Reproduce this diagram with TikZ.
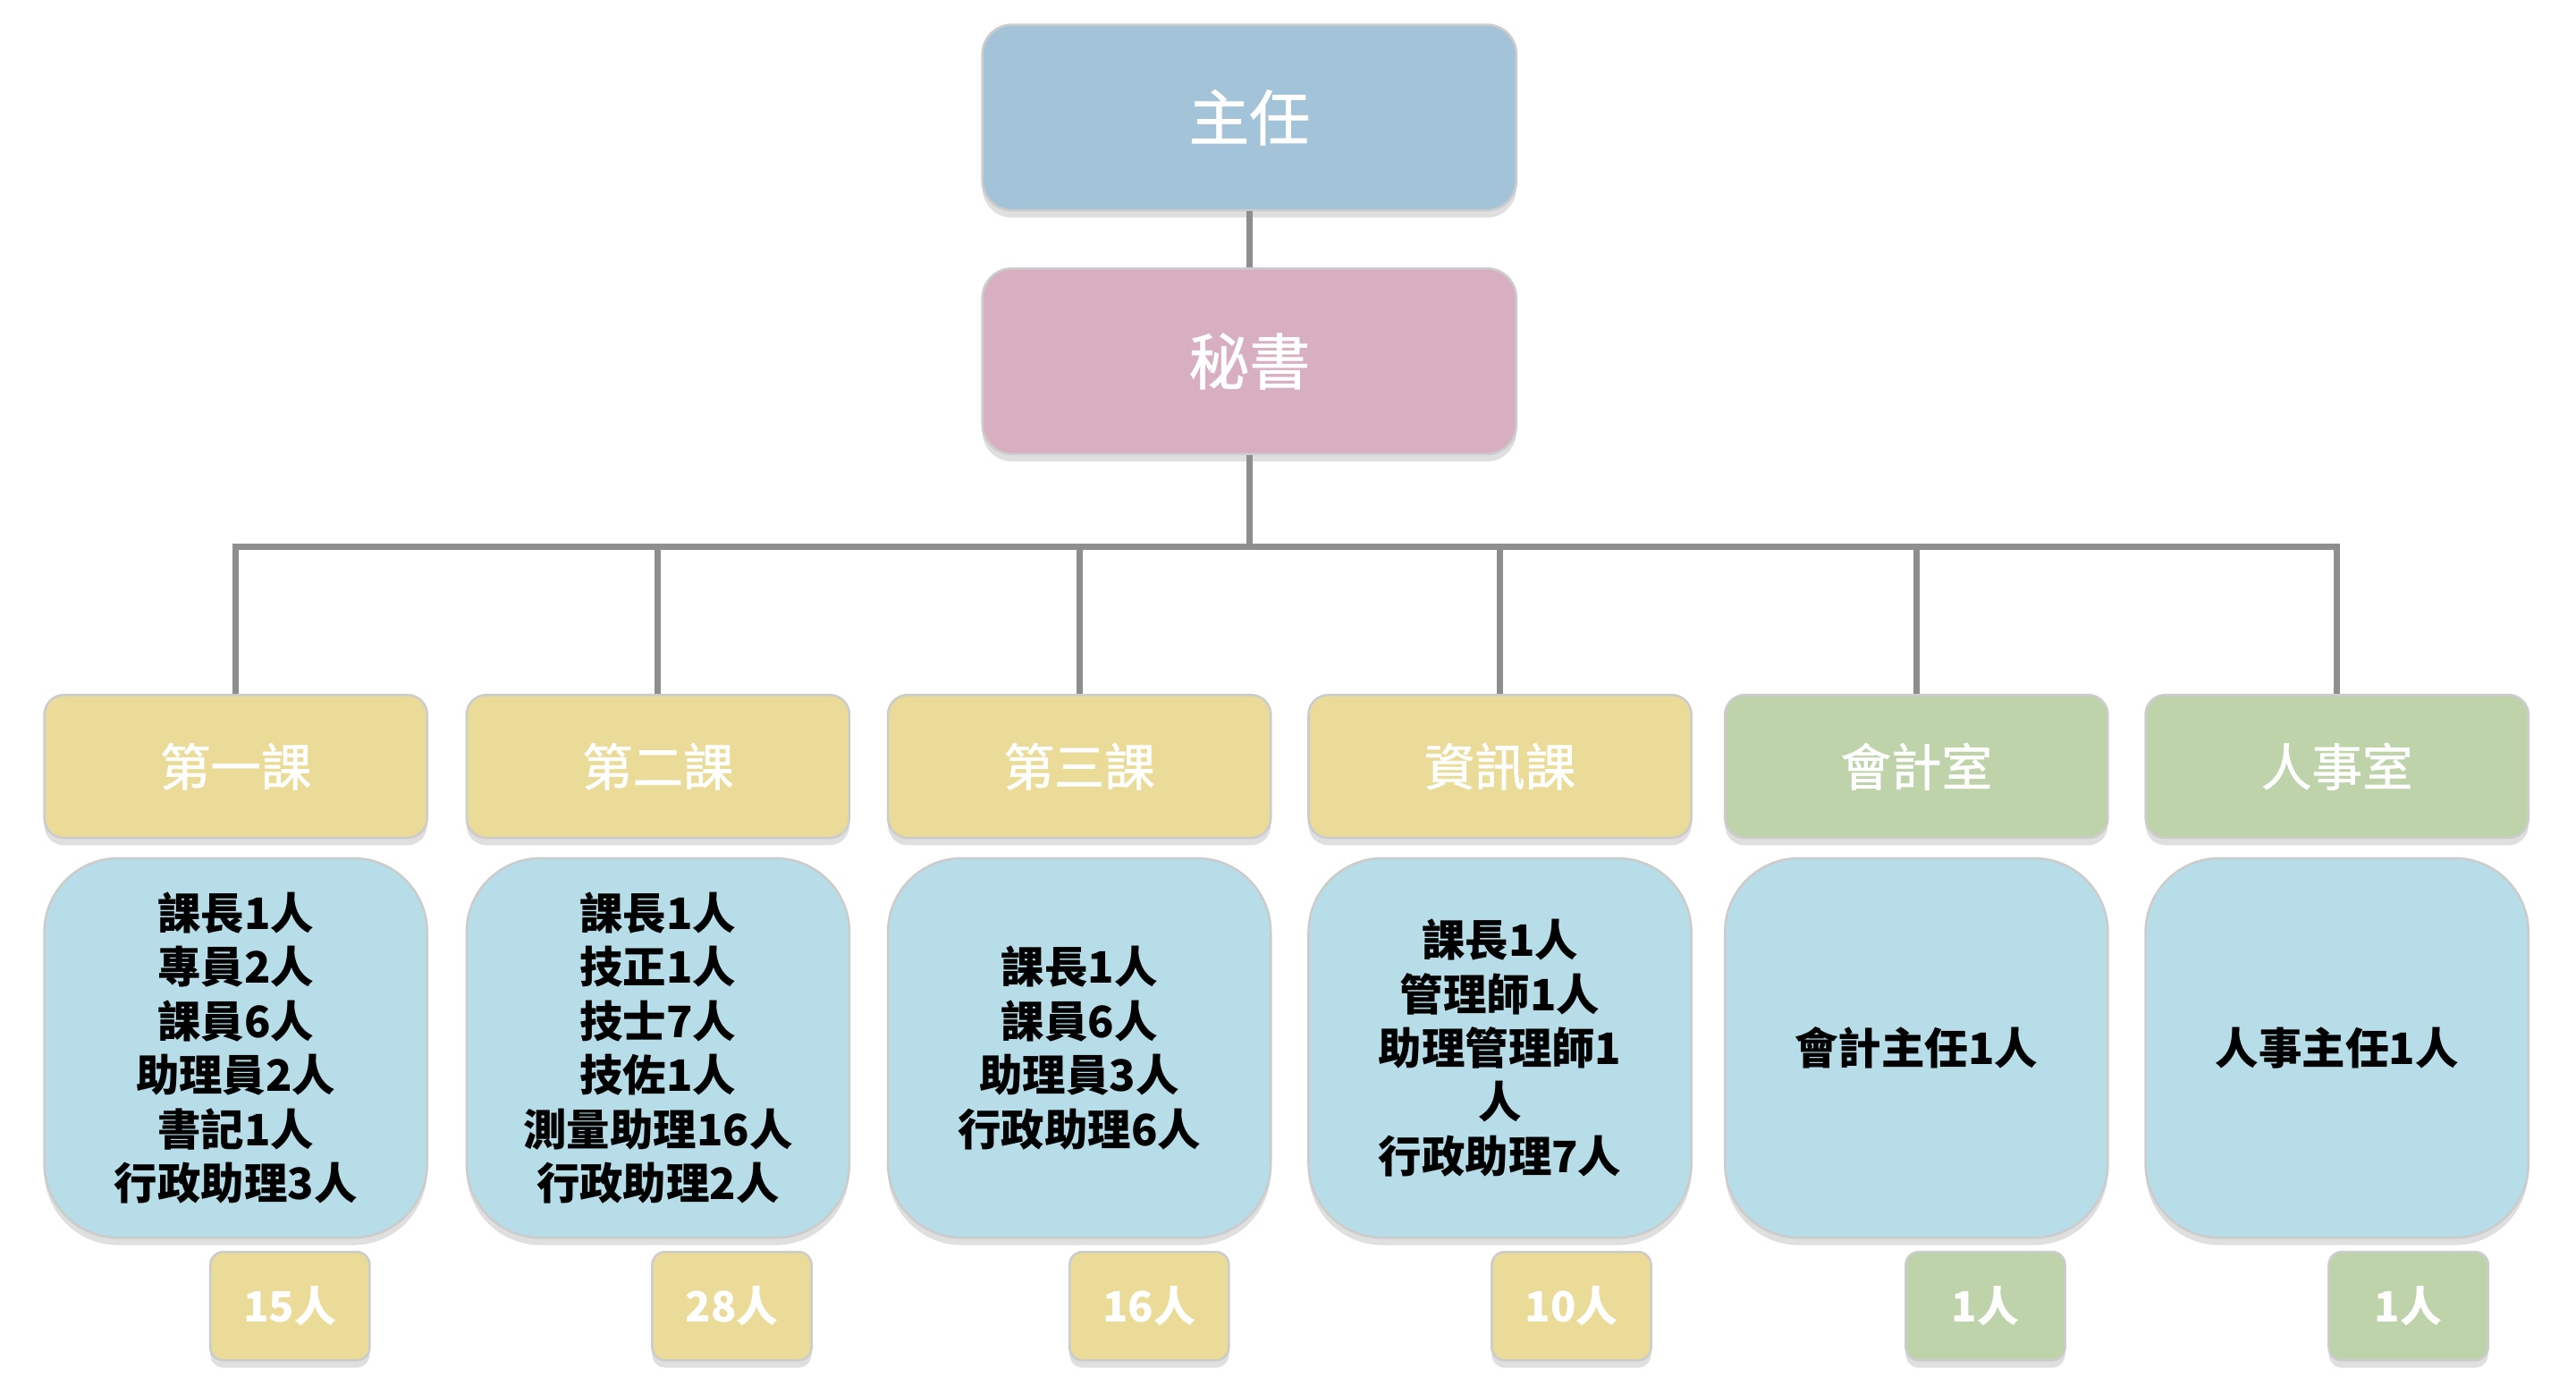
\documentclass[tikz,border=0pt]{standalone}
\usepackage{fontspec}
\setmainfont{Noto Sans CJK TC}
\newfontfamily\medcjk{Noto Sans CJK TC}[FakeBold=1.2]
\usetikzlibrary{positioning, shadows}
\definecolor{chiefblue}{HTML}{A2C3D8}
\definecolor{secpink}{HTML}{D8AFC0}
\definecolor{deptyellow}{HTML}{EADC98}
\definecolor{deptgreen}{HTML}{BED3AA}
\definecolor{staffblue}{HTML}{B7DDE8}
\definecolor{linkgray}{HTML}{8E8E8E}

\begin{document}
\begin{tikzpicture}[node distance={0.22cm}, line width=0.8pt,
                    box/.style = {draw=black!20, inner sep=0pt,
                        drop shadow={shadow xshift=0pt, shadow yshift=-0.09cm, opacity=0.25}},
                    headbox/.style = {box, rounded corners=0.36cm, minimum width=6.5cm,
                        minimum height=2.26cm, text=white, font=\medcjk\fontsize{21}{25}\selectfont},
                    dept/.style = {box, rounded corners=0.24cm, minimum width=4.66cm,
                        minimum height=1.74cm, text=white, font=\medcjk\fontsize{17.5}{21}\selectfont},
                    staff/.style = {box, fill=staffblue, rounded corners=0.9cm, minimum width=4.66cm,
                        minimum height=4.62cm, align=center, font=\bfseries\fontsize{15}{18.7}\selectfont},
                    tally/.style = {box, rounded corners=0.16cm, minimum width=1.94cm,
                        minimum height=1.32cm, text=white, font=\bfseries\fontsize{14.5}{17}\selectfont},
                    link/.style = {draw=linkgray, line width=2.2pt}]
        \useasboundingbox (0,0) rectangle (31.36,-16.86);

        \node[headbox, fill=chiefblue] (chief) at (15.21,-1.43) {主任};
        \node[headbox, fill=secpink] (secretary) [below=0.68cm of chief] {秘書};
        \coordinate (fork) at (15.21,-6.66);

        \node[dept, fill=deptyellow] (sec1) at (2.87,-9.33) {第一課};
        \node[dept, fill=deptyellow] (sec2) at (8.01,-9.33) {第二課};
        \node[dept, fill=deptyellow] (sec3) at (13.14,-9.33) {第三課};
        \node[dept, fill=deptyellow] (info) at (18.26,-9.33) {資訊課};
        \node[dept, fill=deptgreen] (acct) at (23.33,-9.33) {會計室};
        \node[dept, fill=deptgreen] (pers) at (28.45,-9.33) {人事室};

        \node[staff] (sec1staff) [below=of sec1] {課長1人\\專員2人\\課員6人\\助理員2人\\書記1人\\行政助理3人};
        \node[staff] (sec2staff) [below=of sec2] {課長1人\\技正1人\\技士7人\\技佐1人\\測量助理16人\\行政助理2人};
        \node[staff] (sec3staff) [below=of sec3] {課長1人\\課員6人\\助理員3人\\行政助理6人};
        \node[staff] (infostaff) [below=of info] {課長1人\\管理師1人\\助理管理師1\\人\\行政助理7人};
        \node[staff] (acctstaff) [below=of acct] {會計主任1人};
        \node[staff] (persstaff) [below=of pers] {人事主任1人};

        \node[tally, fill=deptyellow] (sec1sum) at (3.53,-15.9) {15人};
        \node[tally, fill=deptyellow] (sec2sum) at (8.91,-15.9) {28人};
        \node[tally, fill=deptyellow] (sec3sum) at (13.99,-15.9) {16人};
        \node[tally, fill=deptyellow] (infosum) at (19.13,-15.9) {10人};
        \node[tally, fill=deptgreen] (acctsum) at (24.17,-15.9) {1人};
        \node[tally, fill=deptgreen] (perssum) at (29.32,-15.9) {1人};

        \draw[link] (chief) -- (secretary);
        \draw[link] (secretary) -- (fork) -| (sec1);
        \draw[link] (fork) -| (sec2);
        \draw[link] (fork) -| (sec3);
        \draw[link] (fork) -| (info);
        \draw[link] (fork) -| (acct);
        \draw[link] (fork) -| (pers);
    \end{tikzpicture}
\end{document}
